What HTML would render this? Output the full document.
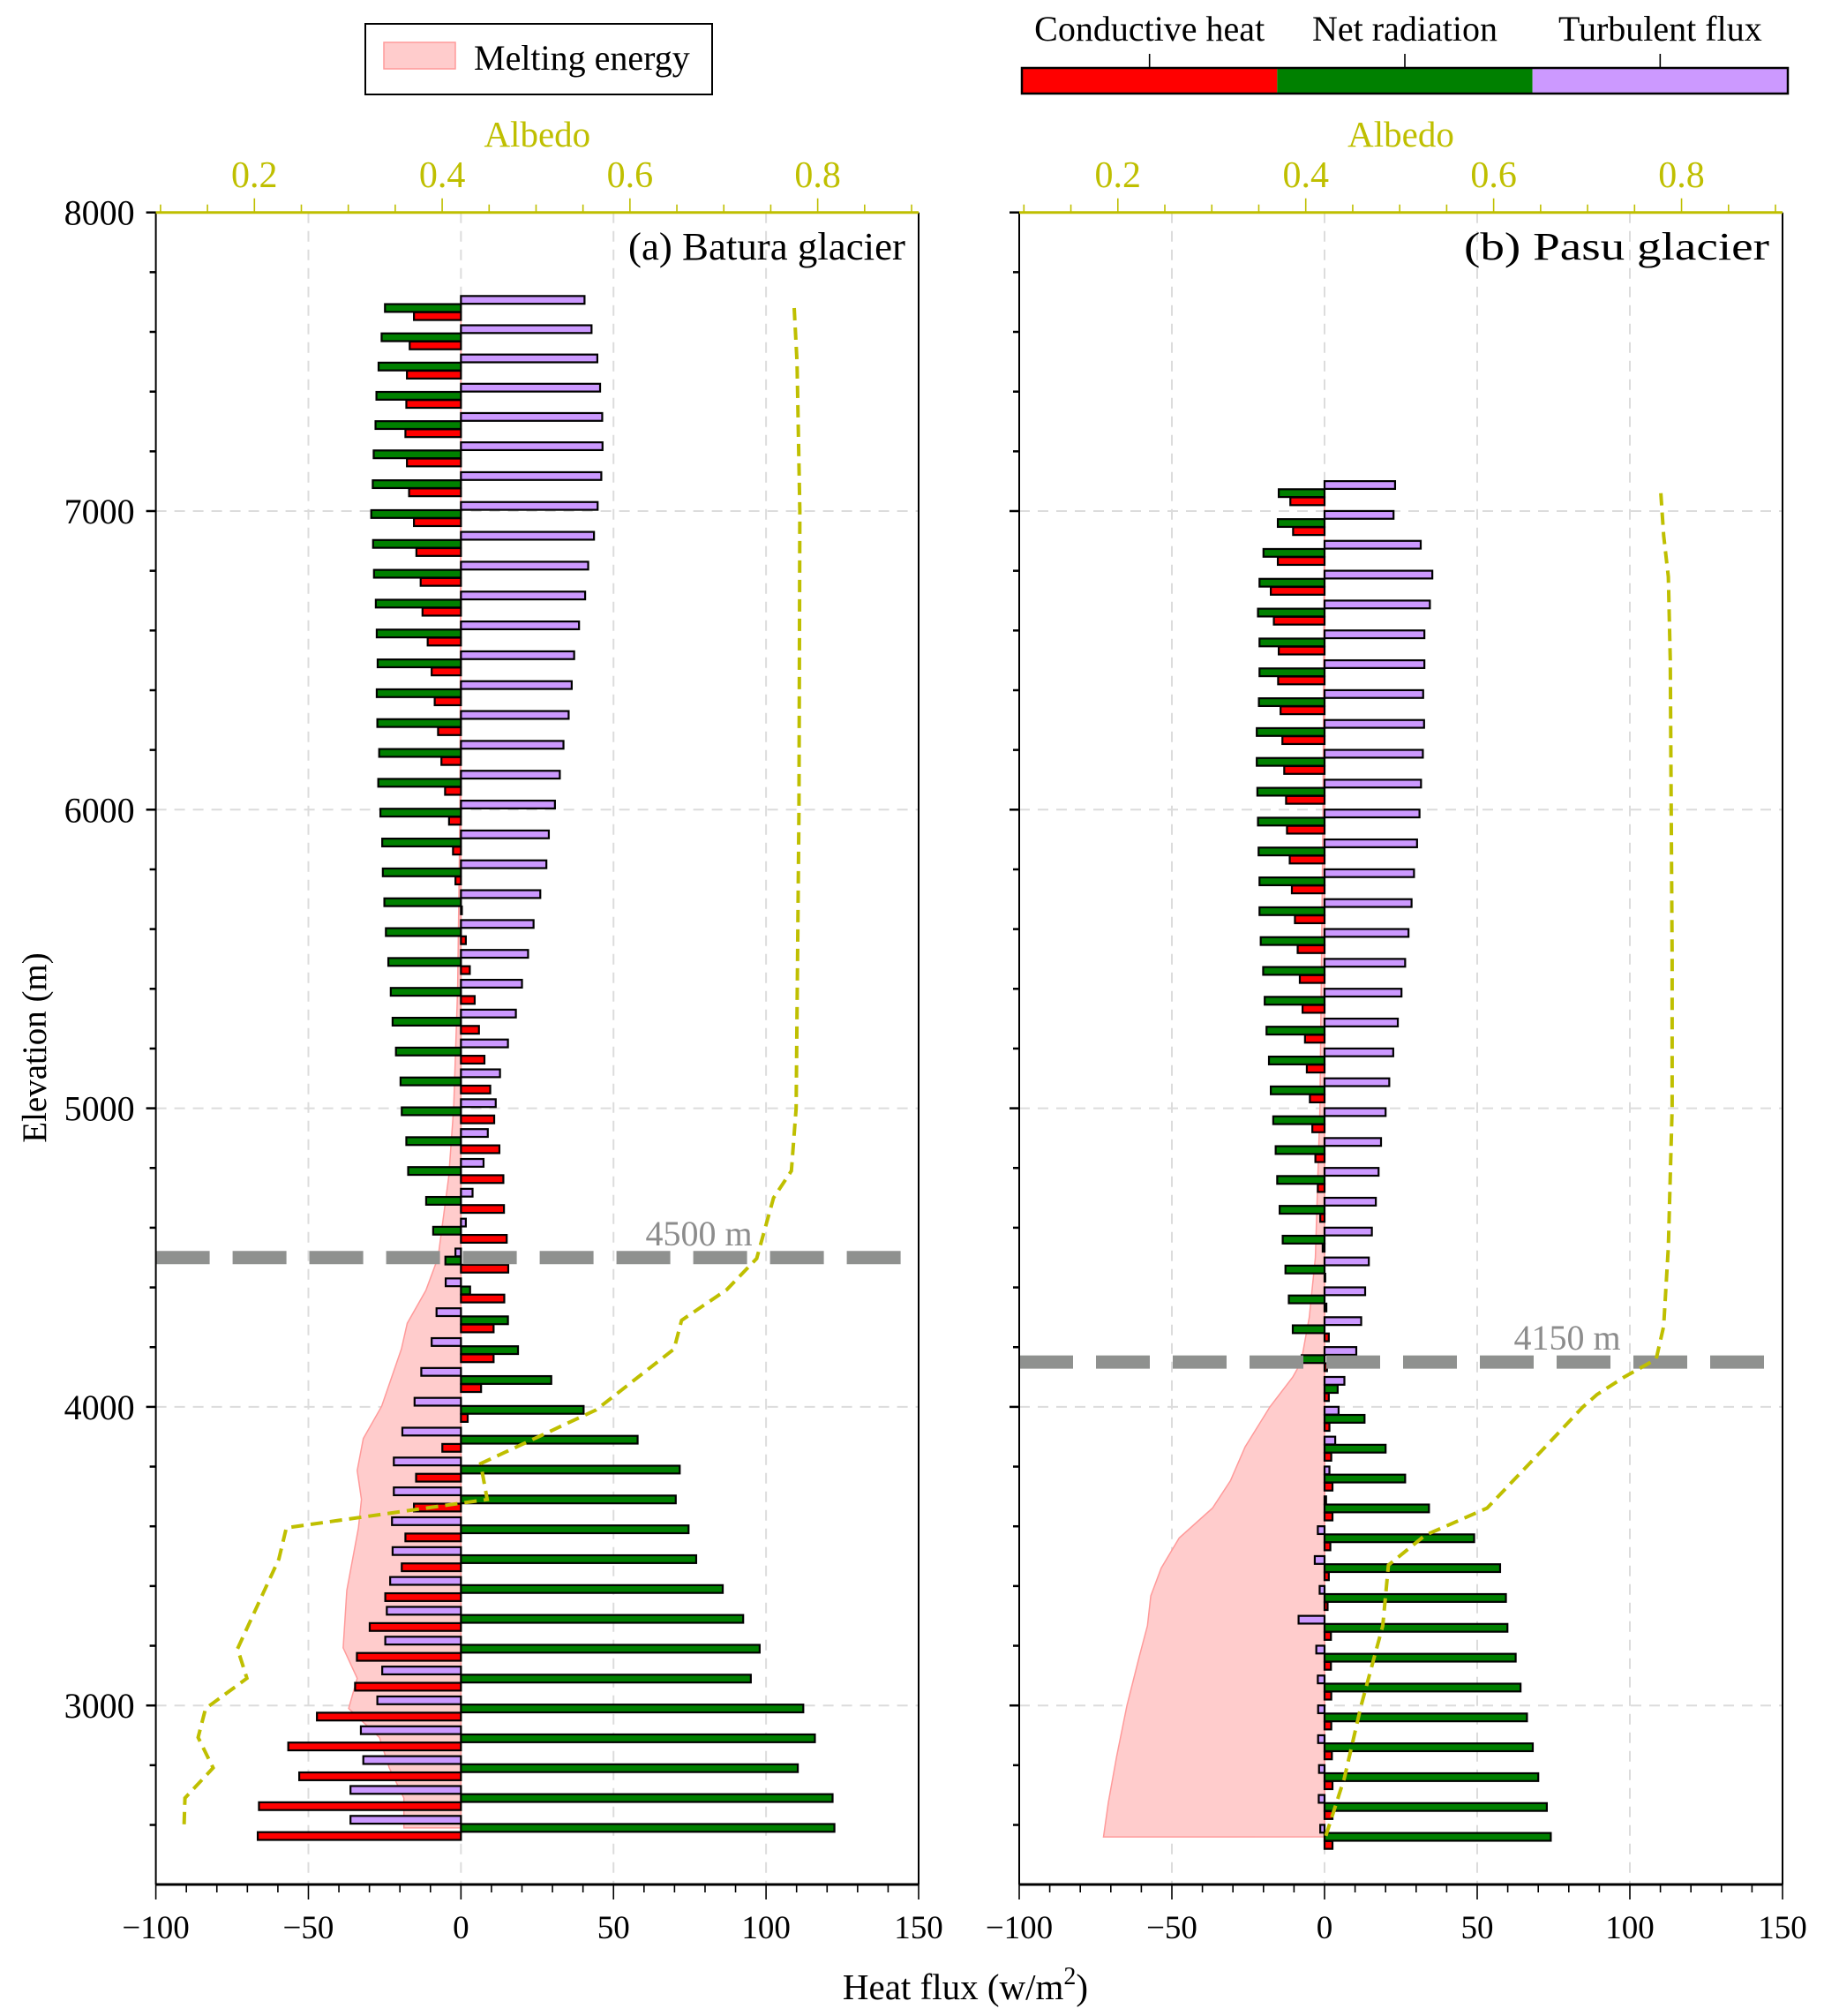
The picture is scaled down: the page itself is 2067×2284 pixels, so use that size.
<!DOCTYPE html>
<html><head><meta charset="utf-8"><style>
html,body{margin:0;padding:0;background:#fff}
svg{display:block;font-family:"Liberation Serif",serif}
</style></head><body>
<svg id="chart" width="2067" height="2284" viewBox="0 0 2067 2284" xmlns="http://www.w3.org/2000/svg"></svg>
<script>
// ---- Data ----
const baturaElev = [7680,7582,7484,7386,7288,7190,7090,6990,6890,6790,6690,6590,6490,6390,6290,6190,6090,5990,5890,5790,5690,5590,5490,5390,5290,5190,5090,4990,4890,4790,4690,4590,4490,4390,4290,4190,4090,3990,3890,3790,3690,3590,3490,3390,3290,3190,3090,2990,2890,2790,2690,2590];
const baturaTurb = [40.5,42.8,44.7,45.6,46.3,46.4,46,44.8,43.6,41.7,40.7,38.7,37.1,36.3,35.3,33.6,32.4,30.8,28.8,28,26,23.8,22,20,18,15.4,12.8,11.4,8.8,7.4,3.8,1.6,-1.8,-5,-8,-9.6,-13,-15.2,-19.2,-22,-22,-22.6,-22.4,-23.2,-24.3,-24.8,-25.8,-27.4,-32.8,-32,-36.2,-36.2];
const baturaNet = [-24.9,-26,-27,-27.7,-28,-28.6,-28.9,-29.4,-28.8,-28.5,-27.9,-27.6,-27.3,-27.6,-27.4,-26.8,-27.1,-26.4,-25.8,-25.6,-25.1,-24.6,-23.8,-23,-22.4,-21.3,-19.8,-19.4,-17.9,-17.3,-11.4,-9.1,-5.1,3,15.4,18.7,29.6,40.2,57.9,71.7,70.4,74.6,77.1,85.8,92.5,97.9,95,112.2,116,110.4,121.8,122.4];
const baturaCond = [-15.4,-16.8,-17.7,-17.9,-18.2,-17.7,-17,-15.4,-14.6,-13.2,-12.6,-10.9,-9.6,-8.6,-7.5,-6.4,-5.2,-3.9,-2.6,-1.8,0.3,1.6,2.9,4.5,5.9,7.7,9.6,10.9,12.6,13.9,14.1,15,15.5,14.2,10.7,10.7,6.6,2.2,-6.1,-14.7,-15.4,-18.2,-19.4,-24.8,-29.9,-34.1,-34.7,-47.2,-56.6,-53,-66.2,-66.6];
const baturaMeltElev = [7690,6000,5400,5000,4770,4500,4390,4280,4194,4002,3894,3787,3690,3595,3385,3193,3091,2990,2893,2791,2690,2590];
const baturaMelt = [0,-0.3,-1.1,-2.4,-4,-7.5,-11.5,-17.6,-19.5,-26,-32,-34,-32.6,-33.6,-37.4,-38.6,-34,-36.8,-26.7,-23.5,-18.7,-18.7];
const baturaAlbElev = [7680,7500,7000,6000,5000,4790,4700,4497,4392,4290,4194,3990,3810,3690,3595,3490,3190,3091,2990,2893,2791,2690,2590];
const baturaAlb = [0.775,0.778,0.781,0.78,0.777,0.772,0.753,0.735,0.703,0.655,0.647,0.564,0.441,0.448,0.234,0.226,0.182,0.192,0.148,0.14,0.156,0.126,0.125];

const pasuElev = [7060,6960,6860,6760,6660,6560,6460,6360,6260,6160,6060,5960,5860,5760,5660,5560,5460,5360,5260,5160,5060,4960,4860,4760,4660,4560,4460,4360,4260,4160,4060,3960,3860,3760,3660,3560,3460,3360,3260,3160,3060,2960,2860,2760,2660,2560];
const pasuTurb = [23.1,22.6,31.5,35.3,34.5,32.7,32.7,32.3,32.6,32.2,31.6,31.1,30.3,29.3,28.5,27.5,26.4,25.2,24,22.5,21.2,20,18.5,17.7,16.8,15.5,14.5,13.3,12,10.4,6.5,4.6,3.5,1.6,0.5,-2.2,-3.2,-1.6,-8.5,-2.7,-2.2,-2.1,-2.1,-1.8,-1.9,-1.4];
const pasuNet = [-15,-15.3,-20,-21.3,-21.8,-21.3,-21.3,-21.5,-22.2,-22.2,-22,-21.8,-21.6,-21.3,-21.3,-20.9,-20.1,-19.6,-19,-18.2,-17.6,-16.8,-16,-15.5,-14.7,-13.7,-12.8,-11.7,-10.4,-7.5,4.3,13.1,20,26.4,34.2,49,57.5,59.4,59.9,62.6,64.2,66.3,68.2,70,72.8,74.1];
const pasuCond = [-11.2,-10.3,-15.3,-17.6,-16.6,-15,-15.2,-14.4,-13.8,-13.2,-12.6,-12.3,-11.4,-10.7,-9.7,-8.8,-8.1,-7.2,-6.4,-5.8,-4.8,-4,-3,-2.2,-1.4,-0.6,0.2,0.6,1.4,0.8,1.4,1.6,2.2,2.6,2.6,1.9,1.4,1,2.1,2.1,2.2,2.2,2.4,2.6,2.6,2.6];
const pasuMeltElev = [7060,6000,5000,4500,4300,4150,4100,4000,3866,3753,3661,3561,3460,3367,3267,3163,3000,2829,2675,2560];
const pasuMelt = [0,-0.5,-1.5,-3,-5,-7.7,-10.4,-17.9,-26,-30.8,-36.7,-47.6,-53.5,-56.9,-58,-60.7,-64.7,-68.1,-70.8,-72.4];
const pasuAlbElev = [7060,6918,6780,6500,5500,5000,4535,4270,4160,4100,4041,4000,3866,3661,3570,3470,3267,3000,2756,2560];
const pasuAlb = [0.778,0.781,0.786,0.788,0.79,0.79,0.786,0.781,0.773,0.739,0.71,0.695,0.655,0.593,0.527,0.488,0.482,0.459,0.441,0.421];

const xTicks = [-100,-50,0,50,100,150];
const yTicks = [3000,4000,5000,6000,7000,8000];
const albTicks = [0.2,0.4,0.6,0.8];
const thresholds = [4500,4150];

// ---- Geometry ----
const NS="http://www.w3.org/2000/svg";
const svg=document.getElementById('chart');
const Y0=240.7, PXM=0.3383, YBOT=2135;
const XMIN=-100, XMAX=150, AMIN=0.095, AMAX=0.9075;
function yOf(e){return Y0+(8000-e)*PXM;}
function mk(tag,attrs,parent){const el=document.createElementNS(NS,tag);for(const k in attrs)el.setAttribute(k,attrs[k]);(parent||svg).appendChild(el);return el;}
function txt(s,attrs,parent){const t=mk('text',attrs,parent);t.textContent=s;return t;}

const panels=[
 {key:'batura',left:176.6,right:1041,elev:baturaElev,turb:baturaTurb,net:baturaNet,cond:baturaCond,me:baturaMeltElev,mv:baturaMelt,ae:baturaAlbElev,av:baturaAlb,title:'(a) Batura glacier',tlen:314,thr:thresholds[0],lx:78,labels:true},
 {key:'pasu',left:1155,right:2020,elev:pasuElev,turb:pasuTurb,net:pasuNet,cond:pasuCond,me:pasuMeltElev,mv:pasuMelt,ae:pasuAlbElev,av:pasuAlb,title:'(b) Pasu glacier',tlen:346,thr:thresholds[1],lx:79.5,labels:false}
];

panels.forEach(p=>{
  const W=p.right-p.left;
  const xOf=v=>p.left+(v-XMIN)/(XMAX-XMIN)*W;
  const aOf=a=>p.left+(a-AMIN)/(AMAX-AMIN)*W;
  const g=mk('g',{});
  
  
  const grid=mk('g',{},g);
  
  
  xTicks.forEach(v=>{if(v>XMIN&&v<XMAX){mk('line',{x1:xOf(v),x2:xOf(v),y1:Y0,y2:YBOT,stroke:'#dcdcdc','stroke-width':2,'stroke-dasharray':'12 9'},grid);}});
  yTicks.forEach(e=>{if(e<8000){mk('line',{x1:p.left,x2:p.right,y1:yOf(e),y2:yOf(e),stroke:'#dcdcdc','stroke-width':2,'stroke-dasharray':'12 9'},grid);}});
  let d='M'+xOf(0)+','+yOf(p.me[0]);
  p.me.forEach((e,i)=>{d+=' L'+xOf(p.mv[i]).toFixed(1)+','+yOf(e).toFixed(1);});
  d+=' L'+xOf(0)+','+yOf(p.me[p.me.length-1])+' Z';
  const area=mk('path',{d:d,fill:'#ffcccc',stroke:'#ff9a9a','stroke-width':1.5},g);
  
  
  const bh=8.8, off=9.2;
  const series=[[p.turb,'#cc99ff',-off,'turbulent'],[p.net,'#008000',0,'net-radiation'],[p.cond,'#ff0000',off,'conductive']];
  p.elev.forEach((e,i)=>{
    series.forEach(s=>{
      const v=s[0][i];const x0=xOf(0),x1=xOf(v);
      const r=mk('rect',{x:Math.min(x0,x1),y:yOf(e)+s[2]-bh/2,width:Math.max(Math.abs(x1-x0),0.8),height:bh,fill:s[1],stroke:'#000','stroke-width':2.2},g);
      
      
    });
  });
  const ty=yOf(p.thr);
  const th=mk('line',{x1:p.left,x2:p.right,y1:ty,y2:ty,stroke:'#8f918f','stroke-width':15,'stroke-dasharray':'61 26'},g);
  
  
  const tl=txt(p.thr+' m',{x:xOf(p.lx),y:ty-14,'font-size':40,fill:'#8c8c8c','text-anchor':'middle'},g);
  
  
  let ad='';
  p.ae.forEach((e,i)=>{ad+=(i?' L':'M')+aOf(p.av[i]).toFixed(1)+','+yOf(e).toFixed(1);});
  const al=mk('path',{d:ad,fill:'none',stroke:'#bfbf00','stroke-width':4,'stroke-dasharray':'14 8'},g);
  
  
  mk('line',{x1:p.left,x2:p.left,y1:Y0,y2:YBOT,stroke:'#000','stroke-width':2},g);
  mk('line',{x1:p.right,x2:p.right,y1:Y0,y2:YBOT,stroke:'#000','stroke-width':2},g);
  mk('line',{x1:p.left,x2:p.right,y1:YBOT,y2:YBOT,stroke:'#000','stroke-width':3},g);
  mk('line',{x1:p.left,x2:p.right,y1:Y0,y2:Y0,stroke:'#bfbf00','stroke-width':3},g);
  const xa=mk('g',{},g);
  
  
  for(let v=XMIN;v<=XMAX;v+=10){const major=v%50===0;mk('line',{x1:xOf(v),x2:xOf(v),y1:YBOT,y2:YBOT+(major?17:9),stroke:'#000','stroke-width':1.6},xa);}
  xTicks.forEach(v=>{txt(v<0?'\u2212'+(-v):String(v),{x:xOf(v),y:2196,'font-size':37,'text-anchor':'middle'},xa);});
  const ya=mk('g',{},g);
  
  
  for(let e=2600;e<=8000;e+=200){const major=e%1000===0;mk('line',{x1:p.left,x2:p.left-(major?11:7),y1:yOf(e),y2:yOf(e),stroke:'#000','stroke-width':2.5},ya);}
  if(p.labels){yTicks.forEach(e=>{txt(String(e),{x:p.left-24,y:yOf(e)+14,'font-size':40,'text-anchor':'end'},ya);});}
  const aa=mk('g',{},g);
  
  
  for(let k=2;k<=18;k++){const a=k*0.05;if(a<AMIN||a>AMAX)continue;const major=k%4===0;mk('line',{x1:aOf(a),x2:aOf(a),y1:Y0,y2:Y0-(major?16:9),stroke:'#bfbf00','stroke-width':1.6},aa);}
  albTicks.forEach(a=>{txt(a.toFixed(1),{x:aOf(a),y:212,'font-size':42,fill:'#bfbf00','text-anchor':'middle'},aa);});
  const at=txt('Albedo',{x:(p.left+p.right)/2,y:166,'font-size':41,fill:'#bfbf00','text-anchor':'middle'},aa);
  
  
  const tt=txt(p.title,{x:p.right-15,y:294,'font-size':44,'text-anchor':'end',textLength:p.tlen,lengthAdjust:'spacingAndGlyphs'},g);
  
  
});

const yt=txt('Elevation (m)',{x:0,y:0,'font-size':39,'text-anchor':'middle',transform:'translate(52,1187) rotate(-90)'});


const xt=mk('text',{x:1094,y:2265,'font-size':41,'text-anchor':'middle'});


xt.appendChild(document.createTextNode('Heat flux (w/m'));
const sup=mk('tspan',{dy:-17,'font-size':28},xt);sup.textContent='2';
const cl=mk('tspan',{dy:17},xt);cl.textContent=')';

const lg=mk('g',{});


mk('rect',{x:414,y:27,width:393,height:80,fill:'#fff',stroke:'#000','stroke-width':2},lg);
mk('rect',{x:435,y:48,width:81,height:30,fill:'#ffcccc',stroke:'#ff9a9a','stroke-width':1.5},lg);
txt('Melting energy',{x:537,y:79,'font-size':40},lg);

const cb=mk('g',{});


const cbL=1158,cbR=2026,cbW=(cbR-cbL)/3;
const cbNames=['Conductive heat','Net radiation','Turbulent flux'];
const cbCols=['#ff0000','#008000','#cc99ff'];
cbNames.forEach((n,i)=>{
  mk('rect',{x:cbL+i*cbW,y:77,width:cbW,height:29,fill:cbCols[i]},cb);
  const cx=cbL+(i+0.5)*cbW;
  mk('line',{x1:cx,x2:cx,y1:77,y2:61,stroke:'#000','stroke-width':1.6},cb);
  txt(n,{x:cx,y:46,'font-size':40,'text-anchor':'middle'},cb);
});
mk('rect',{x:cbL,y:77,width:cbR-cbL,height:29,fill:'none',stroke:'#000','stroke-width':2.5},cb);
</script>
</body></html>
